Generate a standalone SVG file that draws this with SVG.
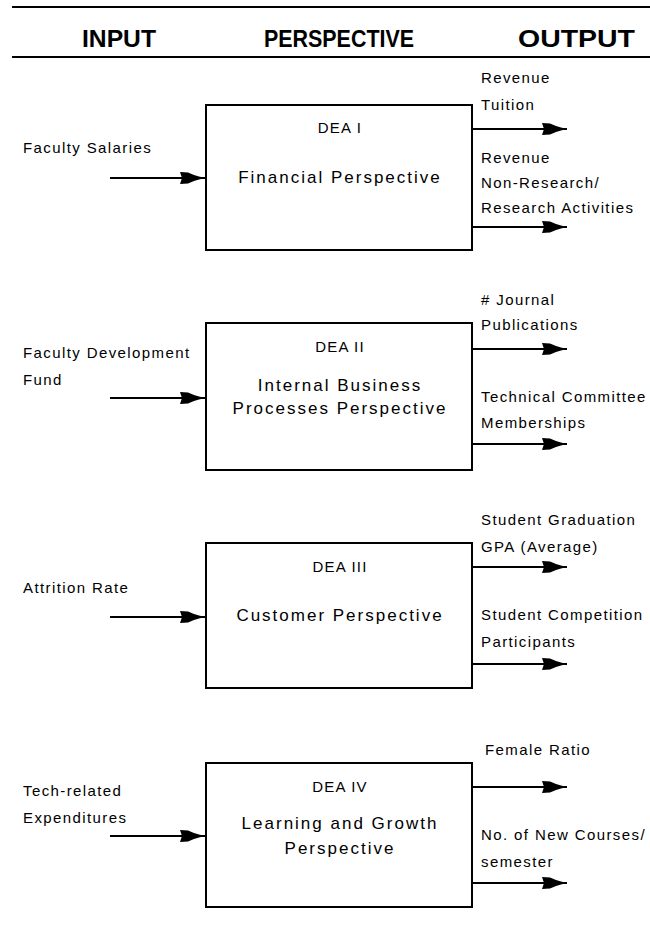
<svg xmlns="http://www.w3.org/2000/svg" xmlns:xlink="http://www.w3.org/1999/xlink" width="650" height="928" viewBox="0 0 650 928">
<style>
  .hdr { font-family: "Liberation Sans", Arial, sans-serif; font-weight: bold; font-size: 23px; fill: #000; }
  .lbl { font-family: "Liberation Sans", Arial, sans-serif; font-size: 15px; fill: #000; letter-spacing: 1.4px; }
  .dea { font-family: "Liberation Sans", Arial, sans-serif; font-size: 15px; fill: #000; text-anchor: middle; letter-spacing: 1.2px; }
  .ttl { font-family: "Liberation Sans", Arial, sans-serif; font-size: 17px; fill: #000; text-anchor: middle; letter-spacing: 2px; }
  .box { fill: #fff; stroke: #000; stroke-width: 2; }
  .ln { stroke: #000; stroke-width: 2; fill: none; }
  .conn line { stroke: #000; stroke-width: 1.8; }
  .ah { fill: #000; }
</style>
<defs>
  <path id="ah" class="ah" d="M0,-6 L8,-5.5 L14,-3 L19,-1.5 L21,-1 L21,1 L19,1.5 L14,3 L8,5.5 L0,6 L2,0 Z"/>
</defs>
<rect width="650" height="928" fill="#fff"/>
<g id="header">
  <line class="ln" x1="12" y1="7" x2="650" y2="7"/>
  <line class="ln" x1="12" y1="57" x2="650" y2="57"/>
  <text class="hdr" x="82" y="47" textLength="74" lengthAdjust="spacingAndGlyphs">INPUT</text>
  <text class="hdr" x="264" y="47" textLength="150" lengthAdjust="spacingAndGlyphs">PERSPECTIVE</text>
  <text class="hdr" x="518" y="47" textLength="117" lengthAdjust="spacingAndGlyphs">OUTPUT</text>
</g>
<g id="dea1">
  <rect class="box" x="206" y="105" width="266" height="145"/>
  <text class="dea" x="340" y="133">DEA I</text>
  <text class="ttl" x="340" y="183">Financial Perspective</text>
</g>
<g id="dea2">
  <rect class="box" x="206" y="323" width="266" height="147"/>
  <text class="dea" x="340" y="352">DEA II</text>
  <text class="ttl" x="340" y="391">Internal Business</text>
  <text class="ttl" x="340" y="414">Processes Perspective</text>
</g>
<g id="dea3">
  <rect class="box" x="206" y="543" width="266" height="145"/>
  <text class="dea" x="340" y="572">DEA III</text>
  <text class="ttl" x="340" y="621">Customer Perspective</text>
</g>
<g id="dea4">
  <rect class="box" x="206" y="763" width="266" height="144"/>
  <text class="dea" x="340" y="792">DEA IV</text>
  <text class="ttl" x="340" y="829">Learning and Growth</text>
  <text class="ttl" x="340" y="854">Perspective</text>
</g>
<g id="inputs">
  <text class="lbl" x="23" y="153">Faculty Salaries</text>
  <text class="lbl" x="23" y="358">Faculty Development</text>
  <text class="lbl" x="23" y="385">Fund</text>
  <text class="lbl" x="23" y="593">Attrition Rate</text>
  <text class="lbl" x="23" y="796">Tech-related</text>
  <text class="lbl" x="23" y="823">Expenditures</text>
</g>
<g id="outputs">
  <text class="lbl" x="481" y="83">Revenue</text>
  <text class="lbl" x="481" y="110">Tuition</text>
  <text class="lbl" x="481" y="163">Revenue</text>
  <text class="lbl" x="481" y="188">Non-Research/</text>
  <text class="lbl" x="481" y="213">Research Activities</text>
  <text class="lbl" x="481" y="305"># Journal</text>
  <text class="lbl" x="481" y="330">Publications</text>
  <text class="lbl" x="481" y="402">Technical Committee</text>
  <text class="lbl" x="481" y="428">Memberships</text>
  <text class="lbl" x="481" y="525">Student Graduation</text>
  <text class="lbl" x="481" y="552">GPA (Average)</text>
  <text class="lbl" x="481" y="620">Student Competition</text>
  <text class="lbl" x="481" y="647">Participants</text>
  <text class="lbl" x="485" y="755">Female Ratio</text>
  <text class="lbl" x="481" y="840">No. of New Courses/</text>
  <text class="lbl" x="481" y="867">semester</text>
</g>
<g id="connectors" class="conn">
  <line x1="110" y1="178" x2="206" y2="178"/><use xlink:href="#ah" x="180" y="178"/>
  <line x1="110" y1="398" x2="206" y2="398"/><use xlink:href="#ah" x="180" y="398"/>
  <line x1="110" y1="617" x2="206" y2="617"/><use xlink:href="#ah" x="180" y="617"/>
  <line x1="110" y1="836" x2="206" y2="836"/><use xlink:href="#ah" x="180" y="836"/>
  <line x1="472" y1="129" x2="567" y2="129"/><use xlink:href="#ah" x="542" y="129"/>
  <line x1="472" y1="227" x2="567" y2="227"/><use xlink:href="#ah" x="542" y="227"/>
  <line x1="472" y1="349" x2="567" y2="349"/><use xlink:href="#ah" x="542" y="349"/>
  <line x1="472" y1="444" x2="567" y2="444"/><use xlink:href="#ah" x="542" y="444"/>
  <line x1="472" y1="567" x2="567" y2="567"/><use xlink:href="#ah" x="542" y="567"/>
  <line x1="472" y1="664" x2="567" y2="664"/><use xlink:href="#ah" x="542" y="664"/>
  <line x1="472" y1="787" x2="567" y2="787"/><use xlink:href="#ah" x="542" y="787"/>
  <line x1="472" y1="883" x2="567" y2="883"/><use xlink:href="#ah" x="542" y="883"/>
</g>
</svg>
